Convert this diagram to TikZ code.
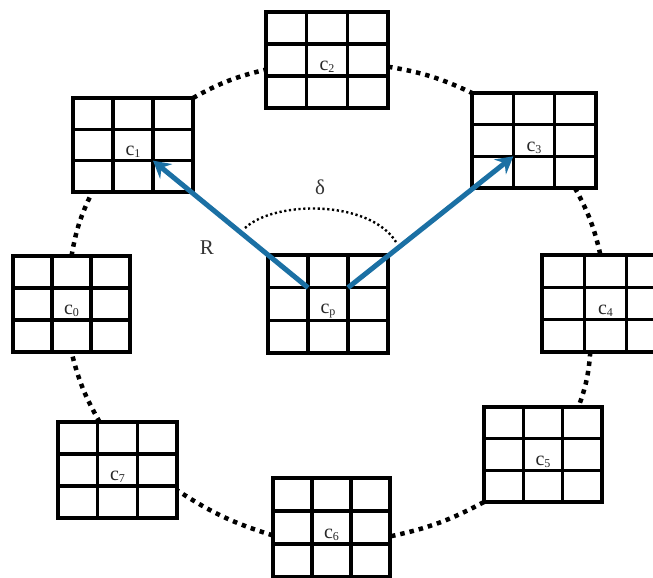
\documentclass[tikz,border=0pt]{standalone}
\usepackage{fontspec}
\setmainfont{Liberation Serif}
\usetikzlibrary{calc,arrows.meta}
\definecolor{arrowblue}{RGB}{27,112,164}
\definecolor{labelgrey}{RGB}{40,40,40}
\newcommand{\cellname}[1]{c\raisebox{-0.25ex}{\fontsize{12}{12}\selectfont #1}}
\begin{document}
\begin{tikzpicture}[x=1pt,y=-1pt,
  gridbox/.style n args={2}{draw, line width=4.4pt, inner sep=0pt, outer sep=0pt,
    minimum width=#1, minimum height=#2,
    path picture={
      \foreach \f in {0.3333,0.6667}{
        \draw[line width=3.1pt]
          ($(path picture bounding box.north west)!\f!(path picture bounding box.north east)$) --
          ($(path picture bounding box.south west)!\f!(path picture bounding box.south east)$);
        \draw[line width=3.1pt]
          ($(path picture bounding box.north west)!\f!(path picture bounding box.south west)$) --
          ($(path picture bounding box.north east)!\f!(path picture bounding box.south east)$);
      }
    }},
  ring/.style={line width=4.5pt, dash pattern=on 4.5pt off 5pt},
  finedots/.style={line width=2.4pt, dash pattern=on 2.2pt off 2.6pt},
  radius arrow/.style={draw=arrowblue, line width=5pt,
    -{Stealth[length=17pt,width=19pt,inset=6pt]}},
  lbl/.style={inner sep=0pt, text=labelgrey, font=\fontsize{20}{20}\selectfont},
  sym/.style={inner sep=0pt, text=black!80, font=\fontsize{21}{21}\selectfont}]
\useasboundingbox (0,0) rectangle (653,578);

% the nine 3x3 windows
\node[gridbox={120}{98}] (cp) at (328,304) {};
\node[gridbox={117}{96}] (c0) at (71.5,304) {};
\node[gridbox={120}{94}] (c1) at (133,145) {};
\node[gridbox={122}{96}] (c2) at (327,60) {};
\node[gridbox={124}{95}] (c3) at (534,140.5) {};
\node[gridbox={127}{97}] (c4) at (605.5,303.5) {};
\node[gridbox={118}{95}] (c5) at (543,454.5) {};
\node[gridbox={117}{99}] (c6) at (331.5,527.5) {};
\node[gridbox={119}{96}] (c7) at (117.5,470) {};

% cell labels
\foreach \n in {0,...,7}{
  \node[lbl] (l\n) at ($(c\n.center)+(0,7)$) {\cellname{\n}};
}
\node[lbl] (lp) at ($(cp.center)+(0,7)$) {\cellname{p}};

% dotted ring through the neighbours
\draw[ring] (c1.north east) to[bend left=8] ($(c2.north west)!0.6!(c2.south west)$);
\draw[ring] ($(c2.north east)!0.57!(c2.south east)$) to[bend left=8] (c3.north west);
\draw[ring] ($(c3.south west)!0.83!(c3.south east)$) to[bend left=8] ($(c4.north west)!0.46!(c4.north east)$);
\draw[ring] ($(c4.south west)!0.38!(c4.south east)$) to[bend left=8] ($(c5.north west)!0.8!(c5.north east)$);
\draw[ring] (c5.south west) to[bend left=8] ($(c6.north east)!0.59!(c6.south east)$);
\draw[ring] ($(c6.north west)!0.58!(c6.south west)$) to[bend left=8] ($(c7.north east)!0.71!(c7.south east)$);
\draw[ring] ($(c7.north west)!0.35!(c7.north east)$) to[bend left=8] ($(c0.south west)!0.5!(c0.south east)$);
\draw[ring] ($(c0.north west)!0.5!(c0.north east)$) to[bend left=8] ($(c1.south west)!0.16!(c1.south east)$);

% radius vectors from the centre window
\coordinate (pA) at ($(cp.north west)!1/3!(cp.south east)$);
\coordinate (pB) at ($(cp.north east)!1/3!(cp.south west)$);
\coordinate (t1) at ($(c1.north west)!2/3!(c1.south east)$);
\coordinate (t3) at ($(c3.north east)!2/3!(c3.south west)$);
\draw[radius arrow] (pA) -- (t1);
\draw[radius arrow] (pB) -- (t3);

% angle between the two vectors
\coordinate (dA) at (245,228);
\coordinate (dB) at (396,242);
\draw[finedots] (dA) .. controls (275,200) and (370,200) .. (dB);
\node[sym] (delta) at (320,187) {δ};
\node[sym] (rad) at (207,248) {R};
\end{tikzpicture}
\end{document}
